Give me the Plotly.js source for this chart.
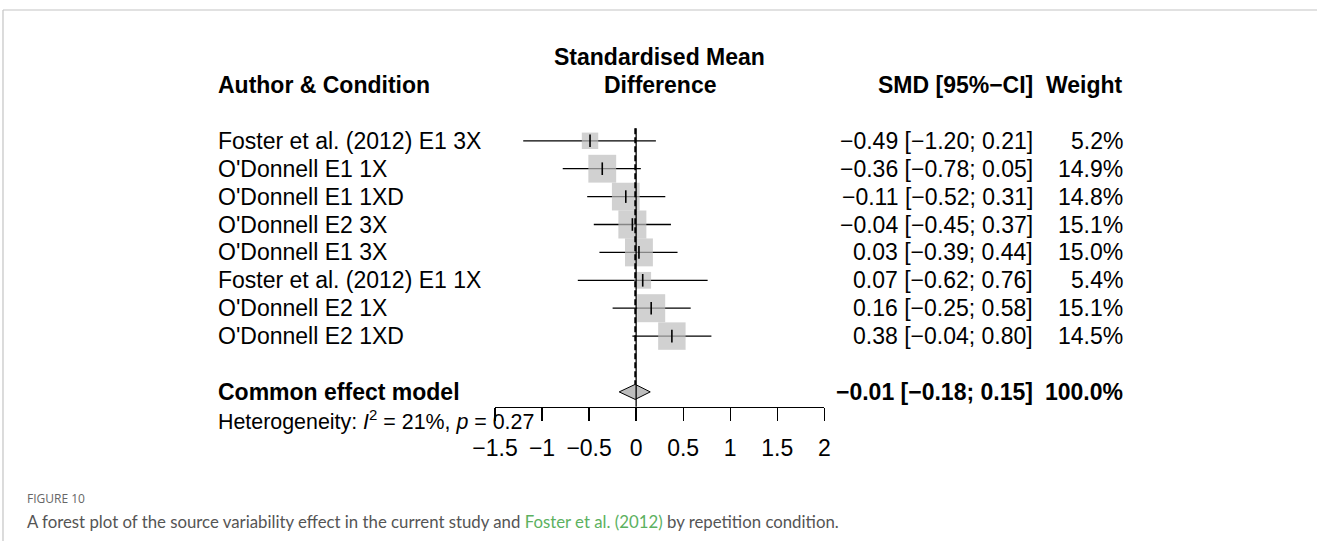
<!DOCTYPE html>
<html><head><meta charset="utf-8">
<script src="https://cdn.plot.ly/plotly-3.0.1.min.js"></script>
<style>html,body{margin:0;padding:0;background:#fff;} #chart{width:1317px;height:541px;}</style>
</head><body><div id="chart"></div>
<script>
const studyLabels = [
  "Foster et al. (2012) E1 3X",
  "O'Donnell E1 1X",
  "O'Donnell E1 1XD",
  "O'Donnell E2 3X",
  "O'Donnell E1 3X",
  "Foster et al. (2012) E1 1X",
  "O'Donnell E2 1X",
  "O'Donnell E2 1XD"
];
const smd    = [-0.49, -0.36, -0.11, -0.04, 0.03, 0.07, 0.16, 0.38];
const lower  = [-1.20, -0.78, -0.52, -0.45, -0.39, -0.62, -0.25, -0.04];
const upper  = [ 0.21,  0.05,  0.31,  0.37,  0.44,  0.76,  0.58,  0.80];
const weights = [5.2, 14.9, 14.8, 15.1, 15.0, 5.4, 15.1, 14.5];
const ceEst = -0.01, ceLower = -0.18, ceUpper = 0.15, ceWeight = 100.0;
const hetI2 = "21%", hetP = "0.27";
const tickVals = [-1.5, -1, -0.5, 0, 0.5, 1, 1.5, 2];

const W = 1317, H = 541, ROW0 = 85, DY = 27.9;
const FONT = "Liberation Sans, Arial, Helvetica, sans-serif";
const px = v => v / W;
const py = v => 1 - v / H;
const rows = studyLabels.map((_, i) => i + 2);
const ceRow = 11, hetRow = 12;
const maxW = Math.max(...weights);
const fmt = v => (v < 0 ? "\u2212" : "") + Math.abs(v).toFixed(2);
const ciText = (e, l, u) => fmt(e) + " [" + fmt(l) + "; " + fmt(u) + "]";

const traces = [
  { type: 'scatter', mode: 'markers', x: smd, y: rows,
    marker: { size: 2, opacity: 0 },
    error_x: { type: 'data', symmetric: false,
      array: upper.map((u, i) => u - smd[i]),
      arrayminus: lower.map((l, i) => smd[i] - l),
      color: '#000', thickness: 1.3, width: 0 },
    hoverinfo: 'skip', cliponaxis: false },
  { type: 'scatter', mode: 'markers', x: smd, y: rows,
    marker: { symbol: 'square', size: weights.map(w => 28 * Math.sqrt(w / maxW)),
      color: '#bdbdbd', line: { width: 0 } }, hoverinfo: 'skip', cliponaxis: false },
  { type: 'scatter', mode: 'markers', x: smd, y: rows,
    marker: { symbol: 'line-ns', size: 9, line: { width: 1.6, color: '#000' } },
    hoverinfo: 'skip', cliponaxis: false },
  { type: 'scatter', mode: 'lines',
    x: [ceLower, ceEst, ceUpper, ceEst, ceLower],
    y: [ceRow, ceRow - 0.27, ceRow, ceRow + 0.27, ceRow],
    fill: 'toself', fillcolor: '#bdbdbd', line: { color: '#000', width: 1 },
    hoverinfo: 'skip', cliponaxis: false }
];

const ann = [];
function A(text, xpx, row, anchor, bold, extra) {
  ann.push(Object.assign({ text: bold ? '<b>' + text + '</b>' : text, x: px(xpx), xref: 'paper', y: row, yref: 'y',
    xanchor: anchor, yanchor: 'middle', showarrow: false,
    font: { family: FONT, size: 23, color: '#000' } }, extra || {}));
}
A("Standardised Mean", 659.5, -1, 'center', true);
A("Difference", 659.5, 0, 'center', true);
A("Author &amp; Condition", 216, 0, 'left', true);
A("SMD [95%\u2212CI]", 1035, 0, 'right', true);
A("Weight", 1125, 0, 'right', true);
studyLabels.forEach((lab, i) => {
  A(lab, 216, rows[i], 'left', false);
  A(ciText(smd[i], lower[i], upper[i]), 1035, rows[i], 'right', false);
  A(weights[i].toFixed(1) + "%", 1125, rows[i], 'right', false);
});
A("Common effect model", 216, ceRow, 'left', true);
A(ciText(ceEst, ceLower, ceUpper), 1035, ceRow, 'right', true);
A(ceWeight.toFixed(1) + "%", 1125, ceRow, 'right', true);
A("Heterogeneity: <i>I</i><sup>2</sup> = " + hetI2 + ", <i>p</i> = " + hetP, 216, hetRow, 'left', false,
  { font: { family: FONT, size: 21.4, color: '#000' } });

ann.push({ text: "FIGURE 10", x: px(25), xref: 'paper', y: py(498), yref: 'paper', xanchor: 'left', yanchor: 'middle',
  showarrow: false, font: { family: "Open Sans, sans-serif", size: 12, color: '#666' } });
ann.push({ text: "A forest plot of the source variability effect in the current study and <span style='color:#5cb15f'>Foster et al. (2012)</span> by repetition condition.",
  x: px(25), xref: 'paper', y: py(521), yref: 'paper', xanchor: 'left', yanchor: 'middle',
  showarrow: false, font: { family: "Lato, sans-serif", size: 16.8, color: '#555' } });

const layout = {
  width: W, height: H, margin: { l: 0, r: 0, t: 0, b: 0 },
  paper_bgcolor: '#fff', plot_bgcolor: 'rgba(0,0,0,0)', showlegend: false, hovermode: false,
  xaxis: { domain: [495 / W, 824.3 / W], range: [-1.5, 2], tickvals: tickVals,
    ticks: 'outside', ticklen: 13, tickwidth: 1.3, tickcolor: '#000',
    showline: true, linecolor: '#000', linewidth: 1.3, showgrid: false, zeroline: false,
    anchor: 'free', position: 1 - 406.7 / H, ticklabelstandoff: 7,
    tickfont: { family: FONT, size: 23, color: '#000' }, fixedrange: true },
  yaxis: { domain: [0, 1], range: [(H - ROW0) / DY, -ROW0 / DY], visible: false, fixedrange: true },
  shapes: [
    { type: 'line', xref: 'x', yref: 'y', x0: 0, x1: 0, y0: 1.55, y1: (406.7 - ROW0) / DY, line: { color: '#000', width: 1.3 } },
    { type: 'line', xref: 'x', yref: 'y', x0: ceEst, x1: ceEst, y0: 1.55, y1: ceRow - 0.27, line: { color: '#000', width: 1.8, dash: '6px,3px' } },
    { type: 'line', xref: 'paper', yref: 'paper', x0: px(3), x1: 1, y0: py(10), y1: py(10), line: { color: '#c4c4c4', width: 1.2 } },
    { type: 'line', xref: 'paper', yref: 'paper', x0: px(3), x1: px(3), y0: py(10), y1: 0, line: { color: '#c4c4c4', width: 1.2 } }
  ],
  annotations: ann
};
Plotly.newPlot('chart', traces, layout, { staticPlot: true, displayModeBar: false });
</script></body></html>
